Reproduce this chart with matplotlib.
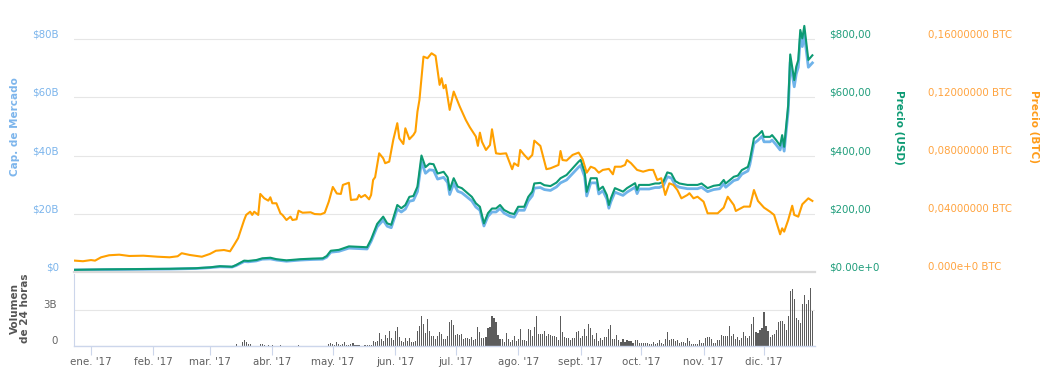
import numpy as np
import pandas as pd
import matplotlib
matplotlib.use("Agg")
import matplotlib.pyplot as plt
import matplotlib.dates as mdates
from matplotlib.ticker import FuncFormatter
from matplotlib.transforms import ScaledTranslation

# days are counted from 1 jan 2017
usd_days = [-8, 6, 22, 39, 52, 59, 64, 70, 72, 76, 78, 82, 85, 89, 92, 97, 104, 110, 115, 117,
            119, 123, 128, 137, 139, 142, 145, 147, 149, 152, 154, 156, 158, 160, 162, 164, 166,
            168, 170, 172, 175, 177, 178, 180, 182, 184, 186, 189, 191, 193, 195, 197, 199, 201,
            203, 205, 208, 210, 212, 215, 217, 219, 220, 223, 225, 228, 231, 233, 236, 239, 242,
            243, 245, 246, 248, 251, 252, 254, 256, 257, 258, 260, 264, 266, 270, 271, 272, 277,
            280, 282, 284, 286, 288, 290, 292, 296, 301, 303, 306, 309, 312, 314, 315, 319, 321,
            323, 326, 327, 329, 331, 333, 334, 337, 338, 340, 342, 343, 344, 346, 347, 349, 350,
            351, 352, 353, 354, 356, 358]
usd_price = [7.5, 9, 10, 11, 13, 16, 20, 18, 24, 39, 38, 41, 47, 49, 44, 40, 44, 46, 47, 55,
             73, 76, 88, 85, 112, 165, 190, 167, 162, 230, 219, 230, 258, 261, 293, 400, 360,
             372, 370, 338, 344, 325, 282, 322, 293, 288, 276, 258, 236, 224, 167, 202, 218, 218,
             230, 213, 202, 199, 224, 224, 258, 276, 304, 306, 298, 295, 307, 322, 333, 356, 379,
             385, 344, 275, 322, 322, 282, 293, 264, 230, 253, 288, 276, 288, 305, 282, 299, 299,
             304, 304, 310, 342, 338, 312, 304, 299, 299, 304, 288, 296, 299, 316, 304, 327, 331,
             350, 361, 385, 459, 470, 484, 464, 464, 470, 453, 434, 470, 430, 573, 747, 659, 705,
             728, 831, 802, 845, 728, 744]
cap_billions = [0.7, 0.8, 0.9, 1.0, 1.2, 1.5, 1.8, 1.7, 2.2, 3.6, 3.5, 3.8, 4.4, 4.5, 4.1, 3.7,
                4.1, 4.3, 4.4, 5.1, 6.8, 7.1, 8.2, 7.9, 10.5, 15.5, 17.8, 15.7, 15.2, 21.6, 20.6,
                21.6, 24.3, 24.6, 27.6, 37.7, 33.9, 35.1, 34.9, 31.9, 32.5, 30.7, 26.6, 30.4, 27.7,
                27.2, 26.1, 24.4, 22.3, 21.2, 15.8, 19.1, 20.6, 20.6, 21.8, 20.2, 19.1, 18.8, 21.2,
                21.2, 24.4, 26.2, 28.8, 29.0, 28.3, 28.0, 29.2, 30.6, 31.6, 33.8, 36.0, 36.6, 32.7,
                26.1, 30.6, 30.6, 26.8, 27.9, 25.1, 21.9, 24.1, 27.4, 26.3, 27.4, 29.1, 26.9, 28.5,
                28.5, 29.0, 29.0, 29.6, 32.7, 32.3, 29.8, 29.1, 28.6, 28.6, 29.1, 27.6, 28.3, 28.6,
                30.3, 29.1, 31.4, 31.8, 33.6, 34.7, 37.0, 44.1, 45.2, 46.6, 44.7, 44.7, 45.3, 43.7,
                41.9, 45.3, 41.5, 55.3, 72.1, 63.6, 68.0, 70.3, 80.2, 77.4, 81.5, 70.3, 71.8]

btc_days = [-8, -4, 0, 2, 5, 9, 14, 19, 26, 33, 39, 43, 45, 49, 55, 59, 62, 66, 69, 71, 73, 76,
            77, 79, 80, 81, 83, 84, 86, 88, 89, 90, 92, 94, 95, 97, 99, 100, 102, 103, 105, 109,
            111, 114, 116, 118, 120, 122, 124, 125, 128, 129, 132, 133, 134, 136, 138, 139, 140,
            141, 143, 145, 146, 148, 150, 152, 153, 155, 156, 158, 160, 161, 162, 163, 165, 167,
            169, 171, 173, 174, 175, 176, 178, 180, 181, 183, 186, 188, 191, 192, 193, 194, 196,
            198, 199, 201, 203, 206, 209, 210, 212, 213, 215, 217, 219, 220, 223, 226, 228, 232,
            233, 234, 236, 239, 242, 244, 246, 248, 250, 252, 254, 257, 259, 260, 263, 265, 266,
            268, 271, 274, 277, 279, 281, 283, 285, 287, 289, 291, 293, 296, 297, 299, 301, 304,
            306, 309, 311, 314, 316, 319, 320, 324, 327, 329, 331, 334, 337, 339, 342, 343, 344,
            346, 348, 349, 351, 353, 356, 358]
btc_price = [0.0078, 0.0074, 0.0082, 0.0078, 0.0101, 0.0115, 0.0119, 0.0110, 0.0112, 0.0105,
             0.0101, 0.0108, 0.0129, 0.0117, 0.0105, 0.0124, 0.0146, 0.0151, 0.0142, 0.0186,
             0.0232, 0.0357, 0.0392, 0.0414, 0.0392, 0.0414, 0.0392, 0.0536, 0.0506, 0.0490,
             0.0513, 0.0472, 0.0472, 0.0403, 0.0392, 0.0357, 0.0380, 0.0357, 0.0362, 0.0421,
             0.0407, 0.0410, 0.0398, 0.0396, 0.0407, 0.0483, 0.0584, 0.0539, 0.0536, 0.0598,
             0.0613, 0.0495, 0.0499, 0.0529, 0.0513, 0.0529, 0.0499, 0.0529, 0.0632, 0.0651,
             0.0815, 0.0781, 0.0747, 0.0758, 0.0907, 0.1022, 0.0918, 0.0879, 0.0987, 0.0912,
             0.0941, 0.0964, 0.1101, 0.1182, 0.1479, 0.1468, 0.1502, 0.1484, 0.1285, 0.1331,
             0.1262, 0.1285, 0.1113, 0.1239, 0.1204, 0.1136, 0.1044, 0.0994, 0.0930, 0.0866,
             0.0957, 0.0895, 0.0838, 0.0872, 0.0980, 0.0815, 0.0811, 0.0815, 0.0706, 0.0747,
             0.0728, 0.0838, 0.0804, 0.0774, 0.0804, 0.0902, 0.0866, 0.0706, 0.0712, 0.0735,
             0.0831, 0.0769, 0.0765, 0.0804, 0.0820, 0.0774, 0.0682, 0.0723, 0.0712, 0.0682,
             0.0701, 0.0708, 0.0671, 0.0723, 0.0723, 0.0735, 0.0769, 0.0747, 0.0701, 0.0689,
             0.0701, 0.0701, 0.0632, 0.0644, 0.0529, 0.0609, 0.0598, 0.0563, 0.0506, 0.0529,
             0.0541, 0.0506, 0.0517, 0.0483, 0.0403, 0.0403, 0.0403, 0.0442, 0.0517, 0.0460,
             0.0419, 0.0449, 0.0449, 0.0563, 0.0488, 0.0442, 0.0414, 0.0392, 0.0259, 0.0300,
             0.0277, 0.0357, 0.0455, 0.0392, 0.0380, 0.0465, 0.0506, 0.0488]

# 24h volume in billions, one bar per day starting at day 72 (mid march)
vol_first_day = 72
vol_billions = [
    0.14, 0, 0, 0.34, 0.48, 0.34, 0.2, 0.14, 0, 0, 0, 0, 0.14, 0.14, 0.08, 0, 0.08, 0, 0.08, 0,
    0, 0, 0.08, 0, 0, 0, 0, 0, 0, 0, 0, 0.08, 0, 0, 0, 0, 0, 0, 0, 0, 0, 0, 0, 0, 0, 0,
    # day 118 -
    0.14, 0.23, 0.14, 0.06, 0.31, 0.14, 0.06, 0.14, 0.31, 0.06, 0.06, 0.14, 0.23, 0.06, 0.06,
    0.06, 0.02, 0.02, 0.06, 0.06, 0.06, 0.06, 0.40, 0.34, 0.40, 1.08, 0.57, 0.40, 0.91, 0.65,
    1.25, 0.65, 0.48, 1.25, 1.59, 0.74, 0.40, 0.31, 0.65, 0.40, 0.65, 0.31, 0.31, 0.40, 1.25,
    1.67, 2.52, 1.84, 1.08, 2.27, 1.25, 0.82, 0.82, 0.57, 0.82, 1.16, 0.99, 0.57, 0.57, 0.82,
    2.01,
    # day 179 -
    2.18, 1.76, 0.91, 0.99, 0.91, 0.99, 0.57, 0.65, 0.65, 0.57, 0.74, 0.48, 0.57, 1.59, 1.16,
    0.65, 0.65, 0.74, 1.50, 1.59, 2.52, 2.35, 2.01, 0.91, 0.57, 0.57, 0.31, 1.08, 0.57, 0.31,
    0.48, 0.82, 0.40, 0.57, 1.42, 0.48, 0.48, 0.40, 1.42, 1.33, 0.82, 1.59, 2.52, 0.99, 0.99,
    0.99, 1.25, 0.82, 0.99, 0.91, 0.82, 0.82, 0.74, 0.48, 2.52, 1.16, 0.74, 0.65, 0.65, 0.48,
    0.65, 0.65, 1.16, 1.25,
    # day 243 -
    0.65, 0.82, 1.42, 0.82, 1.84, 1.50, 0.91, 0.57, 1.08, 0.40, 0.65, 0.48, 0.74, 0.74, 1.42,
    1.76, 0.57, 0.57, 0.91, 0.48, 0.31, 0.57, 0.31, 0.48, 0.40, 0.40, 0.23, 0.48, 0.48, 0.23,
    0.23, 0.23, 0.23, 0.23, 0.14, 0.14, 0.31, 0.14, 0.23, 0.48, 0.23, 0.14, 0.57, 1.16, 0.48,
    0.57, 0.57, 0.40, 0.48, 0.23, 0.31, 0.31, 0.23, 0.65, 0.40, 0.14, 0.14, 0.14, 0.14, 0.48,
    0.23, 0.23, 0.65, 0.74,
    # day 307 -
    0.74, 0.57, 0.23, 0.23, 0.48, 0.48, 0.91, 0.82, 0.82, 0.82, 1.67, 0.82, 0.99, 0.57, 0.74,
    0.48, 0.65, 1.16, 0.82, 0.65, 0.82, 1.84, 2.44, 1.16, 1.08, 1.33, 1.50, 2.86, 1.67, 1.25,
    0.74, 0.91, 0.99, 1.33, 2.01, 2.10, 2.10, 1.84, 1.33, 2.52, 4.56, 4.73, 3.88, 2.35, 2.18,
    1.93, 3.54, 4.22, 3.46, 3.80, 4.82, 2.95,
]

month_names = ["ene.", "feb.", "mar.", "abr.", "may.", "jun.", "jul.", "ago.", "sept.",
               "oct.", "nov.", "dic."]
cap_ticks = [0, 20, 40, 60, 80]
cap_labels = ["$0", "$20B", "$40B", "$60B", "$80B"]
usd_ticks = [0, 200, 400, 600, 800]
usd_labels = ["$0.00e+0", "$200,00", "$400,00", "$600,00", "$800,00"]
btc_ticks = [0, 0.04, 0.08, 0.12, 0.16]
btc_labels = ["0.000e+0 BTC", "0,04000000 BTC", "0,08000000 BTC", "0,12000000 BTC",
              "0,16000000 BTC"]

BLUE = "#6fb3ea"
GREEN = "#0c9a73"
ORANGE = "#ffa000"
base = pd.Timestamp("2017-01-01")


def to_dates(days):
    return base + pd.to_timedelta(np.asarray(days, dtype=float), unit="D")


W, H = 1047, 374


def box(l, t, r, b):
    return [l / W, 1 - b / H, (r - l) / W, (b - t) / H]


fig = plt.figure(figsize=(W / 100, H / 100), dpi=100)
ax = fig.add_axes(box(74, 20, 815, 272))
ax_vol = fig.add_axes(box(74, 274, 815, 346), sharex=ax)
ax_usd = ax.twinx()
ax_btc = ax.twinx()

top = (272 - 20) / (272 - 39)  # headroom above the last gridline
ax.set_ylim(0, 80 * top)
ax_usd.set_ylim(0, 800 * top)
ax_btc.set_ylim(0, 0.16 * top)
ax.set_xlim(base + pd.Timedelta(days=-8.44), base + pd.Timedelta(days=359.3))

ax.plot(to_dates(usd_days), cap_billions, color=BLUE, lw=2.0, solid_joinstyle="round")
ax_usd.plot(to_dates(usd_days), usd_price, color=GREEN, lw=1.5, solid_joinstyle="round")
ax_btc.plot(to_dates(btc_days), btc_price, color=ORANGE, lw=1.5, solid_joinstyle="round")

vol_days = vol_first_day + np.arange(len(vol_billions))
ax_vol.bar(to_dates(vol_days), vol_billions, width=0.55, color="#5c5c5c", linewidth=0)
ax_vol.set_ylim(0, 6)

# grid + spines
ax.set_yticks(cap_ticks)
ax.set_yticklabels(cap_labels)
ax.grid(axis="y", color="#e6e6e6", lw=0.8)
ax.set_axisbelow(True)
for a in (ax, ax_usd, ax_btc):
    for s in ("top", "left", "right"):
        a.spines[s].set_visible(False)
    a.tick_params(axis="x", bottom=False, labelbottom=False)
for a in (ax_usd, ax_btc):
    a.spines["bottom"].set_visible(False)
ax.spines["bottom"].set_color("#d9d9d9")
ax.spines["bottom"].set_linewidth(1.6)

ax.tick_params(axis="y", length=0, pad=10.8, labelsize=7.4, labelcolor="#7cb5ec")
ax_usd.set_yticks(usd_ticks)
ax_usd.set_yticklabels(usd_labels)
ax_usd.tick_params(axis="y", length=0, pad=10, labelsize=7.4, labelcolor="#1f9d7b")
ax_btc.set_yticks(btc_ticks)
ax_btc.set_yticklabels(btc_labels)
ax_btc.tick_params(axis="y", length=0, pad=81, labelsize=7.4, labelcolor="#ffa440")

ax_vol.set_yticks([0, 3])
ax_vol.set_yticklabels(["0", "3B"])
ax_vol.tick_params(axis="y", length=0, pad=12, labelsize=7.4, labelcolor="#666666")
ax_vol.grid(axis="y", color="#e6e6e6", lw=0.8)
ax_vol.set_axisbelow(True)
ax_vol.spines["top"].set_visible(False)
ax_vol.spines["right"].set_visible(False)
ax_vol.spines["left"].set_color("#ccd6eb")
ax_vol.spines["bottom"].set_color("#ccd6eb")
ax_vol.spines["left"].set_linewidth(0.8)
ax_vol.spines["bottom"].set_linewidth(1.0)

ax_vol.xaxis.set_major_locator(mdates.MonthLocator())
ax_vol.xaxis.set_major_formatter(FuncFormatter(
    lambda v, pos: month_names[mdates.num2date(v).month - 1] + " '" + mdates.num2date(v).strftime("%y")))
ax_vol.tick_params(axis="x", direction="out", length=6.2, width=0.8, color="#ccd6eb",
                   pad=1.5, labelsize=7.4, labelcolor="#606060")

# y labels sit a little above their gridline
shift = ScaledTranslation(0, 0.055, fig.dpi_scale_trans)
for a in (ax, ax_usd, ax_btc, ax_vol):
    for lbl in a.get_yticklabels():
        lbl.set_transform(lbl.get_transform() + shift)

fig.text(15 / W, 1 - 127 / H, "Cap. de Mercado", rotation=90, ha="center", va="center",
         fontsize=7.5, fontweight="bold", color="#7cb5ec")
fig.text(899 / W, 1 - 127 / H, "Precio (USD)", rotation=270, ha="center", va="center",
         fontsize=7.5, fontweight="bold", color=GREEN)
fig.text(1034 / W, 1 - 127 / H, "Precio (BTC)", rotation=270, ha="center", va="center",
         fontsize=7.5, fontweight="bold", color="#ff9c1a")
fig.text(20 / W, 1 - 308 / H, "Volumen\nde 24 horas", rotation=90, ha="center", va="center",
         fontsize=7.5, fontweight="bold", color="#555555", multialignment="center",
         linespacing=1.1)

fig.savefig("out.png", dpi=100)
